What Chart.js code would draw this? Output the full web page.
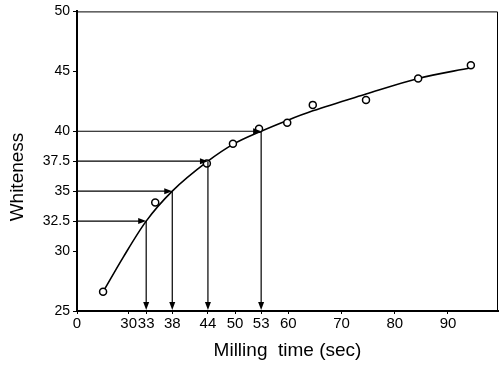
<!DOCTYPE html>
<html lang="en">
<head>
  <meta charset="UTF-8">
  <title>Whiteness vs milling time</title>
  <style>
    body { margin: 0; background: #ffffff; }
    canvas { display: block; }
  </style>
</head>
<body>
  <canvas id="whiteChart" width="499" height="366"></canvas>

  <script src="https://cdn.jsdelivr.net/npm/chart.js"></script>
  <script>
    // measured points (milling time in sec, whiteness)
    const millTime = [25.2, 35.0, 44.7, 49.6, 54.5, 59.8, 64.6, 74.6, 84.4, 94.3];
    const whiteness = [26.6, 34.05, 37.3, 38.95, 40.2, 40.7, 42.2, 42.6, 44.4, 45.5];

    // fitted curve
    const curveTime = [25.2, 29.0, 33.3, 38.2, 44.9, 49.6, 54.9, 59.8, 64.6, 74.6, 84.4, 94.3];
    const curveWhite = [26.6, 29.5, 32.5, 35.0, 37.5, 38.9, 40.0, 40.9, 41.7, 43.1, 44.4, 45.3];

    // read-off arrows: target whiteness -> milling time on the curve
    const arrowWhite = [32.5, 35, 37.5, 40];
    const arrowTime = [33.3, 38.2, 44.9, 54.9];

    // tick marks (axis is broken, first tick reads 0)
    const xTickVals = [20.3, 30, 33.3, 38.2, 44.9, 50, 54.9, 60, 70, 80, 90];
    const xTickLabels = ['0', '30', '33', '38', '44', '50', '53', '60', '70', '80', '90'];
    const yTickVals = [25, 30, 32.5, 35, 37.5, 40, 45, 50];

    const fontName = "'Liberation Sans', Arial, sans-serif";

    const toXY = (xs, ys) => xs.map((x, i) => ({ x: x, y: ys[i] }));

    // frame + arrows + y title
    const extras = {
      id: 'extras',
      afterDatasetsDraw(chart) {
        const ctx = chart.ctx;
        const area = chart.chartArea;
        const xs = chart.scales.x;
        const ys = chart.scales.y;
        ctx.save();
        ctx.strokeStyle = '#000';
        ctx.fillStyle = '#000';

        // thin top and right frame
        ctx.lineWidth = 1;
        ctx.beginPath();
        ctx.moveTo(area.left, area.top + 0.5);
        ctx.lineTo(area.right - 0.5, area.top + 0.5);
        ctx.lineTo(area.right - 0.5, area.bottom);
        ctx.stroke();

        ctx.lineWidth = 1.2;
        arrowWhite.forEach((w, i) => {
          const px = xs.getPixelForValue(arrowTime[i]);
          const py = ys.getPixelForValue(w);
          // horizontal
          ctx.beginPath();
          ctx.moveTo(area.left, py);
          ctx.lineTo(px - 6, py);
          ctx.stroke();
          ctx.beginPath();
          ctx.moveTo(px, py);
          ctx.lineTo(px - 8, py - 3);
          ctx.lineTo(px - 8, py + 3);
          ctx.closePath();
          ctx.fill();
          // vertical
          ctx.beginPath();
          ctx.moveTo(px, py);
          ctx.lineTo(px, area.bottom - 6);
          ctx.stroke();
          ctx.beginPath();
          ctx.moveTo(px, area.bottom - 1);
          ctx.lineTo(px - 3, area.bottom - 9);
          ctx.lineTo(px + 3, area.bottom - 9);
          ctx.closePath();
          ctx.fill();
        });

        // y axis title
        ctx.font = '19px ' + fontName;
        ctx.textAlign = 'center';
        ctx.textBaseline = 'middle';
        ctx.translate(18, 177);
        ctx.rotate(-Math.PI / 2);
        ctx.fillText('Whiteness', 0, 0);
        ctx.restore();
      }
    };

    new Chart(document.getElementById('whiteChart'), {
      type: 'scatter',
      data: {
        datasets: [
          {
            data: toXY(millTime, whiteness),
            pointStyle: 'circle',
            pointRadius: 3.5,
            pointBorderWidth: 1.5,
            pointBackgroundColor: '#fff',
            pointBorderColor: '#000',
            order: 1
          },
          {
            data: toXY(curveTime, curveWhite),
            showLine: true,
            borderColor: '#000',
            borderWidth: 1.6,
            pointRadius: 0,
            cubicInterpolationMode: 'monotone',
            order: 2
          }
        ]
      },
      options: {
        responsive: false,
        animation: false,
        layout: { autoPadding: false, padding: { top: 10, right: 1, left: 0, bottom: 0 } },
        plugins: {
          legend: { display: false },
          tooltip: { enabled: false }
        },
        scales: {
          x: {
            type: 'linear',
            min: 20.3,
            max: 99.4,
            afterFit(scale) {
              scale.height = 55;
              scale.paddingLeft = 0;
              scale.paddingRight = 0;
            },
            afterBuildTicks(scale) {
              scale.ticks = xTickVals.map(v => ({ value: v }));
            },
            border: { color: '#000', width: 2 },
            grid: { drawOnChartArea: false, color: '#000', tickLength: 3 },
            ticks: {
              autoSkip: false,
              maxRotation: 0,
              padding: 1,
              color: '#000',
              font: { family: fontName, size: 15 },
              callback: (v, i) => xTickLabels[i]
            },
            title: {
              display: true,
              text: 'Milling  time (sec)',
              color: '#000',
              font: { family: fontName, size: 19 },
              padding: { top: 4, bottom: 4 }
            }
          },
          y: {
            type: 'linear',
            min: 25,
            max: 50,
            afterFit(scale) { scale.width = 77; },
            afterBuildTicks(scale) {
              scale.ticks = yTickVals.map(v => ({ value: v }));
            },
            border: { color: '#000', width: 2 },
            grid: { drawOnChartArea: false, color: '#000', tickLength: 4 },
            ticks: {
              autoSkip: false,
              padding: 3,
              color: '#000',
              font: { family: fontName, size: 14 },
              callback: v => String(v)
            }
          }
        }
      },
      plugins: [extras]
    });
  </script>
</body>
</html>
